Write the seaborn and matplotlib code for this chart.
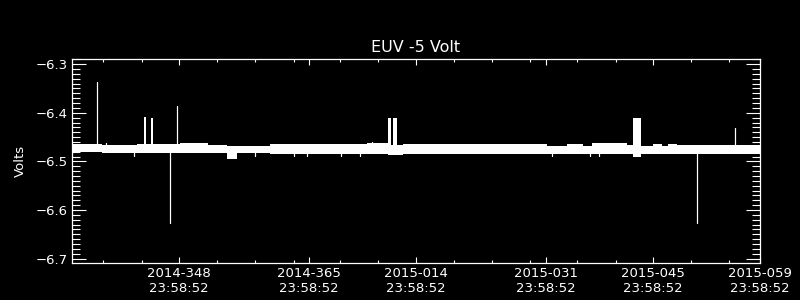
import matplotlib
matplotlib.use("Agg")
import matplotlib.pyplot as plt
from matplotlib.ticker import MultipleLocator
import seaborn as sns
import pandas as pd

# ---- data (x = days since 2014-334 23:58:52, y = Volts) ----
# noisy telemetry envelope
band_edges = [0.00, 3.92, 8.50, 9.38, 9.68, 10.33, 10.60, 14.13, 17.79, 20.28,
              21.58, 25.90, 38.59, 41.34, 41.69, 42.03, 42.48, 43.30, 62.14,
              64.75, 66.85, 68.02, 72.60, 73.39, 74.43, 76.00, 77.18, 77.97,
              79.15, 90.00]
band_top = [-6.4632, -6.4663, -6.4632, -6.4088, -6.4632, -6.4100, -6.4632,
            -6.4616, -6.4663, -6.4684, -6.4673, -6.4632, -6.4612, -6.4110,
            -6.4653, -6.4110, -6.4653, -6.4632, -6.4684, -6.4632, -6.4673,
            -6.4622, -6.4663, -6.4110, -6.4684, -6.4632, -6.4684, -6.4632,
            -6.4663]
band_bottom = [-6.4807, -6.4828, -6.4828, -6.4828, -6.4828, -6.4828, -6.4828,
               -6.4828, -6.4828, -6.4945, -6.4828, -6.4838, -6.4838, -6.4869,
               -6.4869, -6.4869, -6.4869, -6.4838, -6.4838, -6.4838, -6.4838,
               -6.4838, -6.4838, -6.4903, -6.4848, -6.4848, -6.4848, -6.4848,
               -6.4848]

# single-sample spikes
baseline = -6.475
spike_day = [3.31, 4.45, 8.11, 12.86, 13.78, 23.94, 29.04, 30.74, 35.19, 37.67,
             39.20, 62.75, 67.76, 68.94, 81.80, 86.77]
spike_val = [-6.337, -6.4622, -6.489, -6.626, -6.386, -6.489, -6.489, -6.489,
             -6.489, -6.489, -6.4602, -6.489, -6.489, -6.489, -6.626, -6.4314]

# axis ticks
xtick_days = [14, 31, 45, 62, 76, 90]
xtick_labels = ["2014-348\n23:58:52", "2014-365\n23:58:52", "2015-014\n23:58:52",
                "2015-031\n23:58:52", "2015-045\n23:58:52", "2015-059\n23:58:52"]
xminor_days = [4.1, 9.1, 19.0, 24.0, 29.1, 35.1, 40.0, 50.0, 54.9, 59.9,
               66.1, 71.1, 81.0, 85.9]
x_range = (0, 90)
y_range = (-6.709, -6.290)

title = "EUV -5 Volt"
ylabel = "Volts"

# ---- style ----
sns.set_theme(style="ticks", rc={
    "figure.facecolor": "black",
    "axes.facecolor": "black",
    "axes.edgecolor": "white",
    "axes.labelcolor": "white",
    "text.color": "white",
    "xtick.color": "white",
    "ytick.color": "white",
    "axes.grid": False,
})
plt.rcParams["font.family"] = ["DejaVu Sans"]

fig = plt.figure(figsize=(8, 3), dpi=100, facecolor="black")
ax = fig.add_axes([0.09, 0.1233, 0.86, 0.679])

# envelope of the dense telemetry
ax.fill_between(band_edges, band_top + [band_top[-1]],
                band_bottom + [band_bottom[-1]], step="post",
                color="white", linewidth=0)

# spikes as a trace through the baseline
tx, ty = [], []
for d, v in zip(spike_day, spike_val):
    tx += [d, d, d]
    ty += [baseline, v, baseline]
trace = pd.DataFrame({"day": [x_range[0]] + tx + [x_range[1]],
                      "volt": [baseline] + ty + [baseline]})
sns.lineplot(data=trace, x="day", y="volt", estimator=None, sort=False,
             color="white", linewidth=0.8, ax=ax)

ax.set_xlim(*x_range)
ax.set_ylim(*y_range)
ax.set_xticks(xtick_days)
ax.set_xticklabels(xtick_labels)
ax.set_xticks(xminor_days, minor=True)
ax.yaxis.set_major_locator(MultipleLocator(0.1))
ax.yaxis.set_minor_locator(MultipleLocator(0.01))

for s in ax.spines.values():
    s.set_color("white")
    s.set_linewidth(0.9)

ax.tick_params(which="both", direction="in", top=True, right=True,
               colors="white", width=0.8)
ax.tick_params(axis="x", which="major", length=4.5, pad=3, labelsize=9.5)
ax.tick_params(axis="x", which="minor", length=2.3)
ax.tick_params(axis="y", which="major", length=10, pad=3, labelsize=9.5)
ax.tick_params(axis="y", which="minor", length=5.8)

ax.set_xlabel("")
ax.set_ylabel(ylabel, fontsize=9.5, labelpad=6)
ax.set_title(title, fontsize=11.5, color="white", pad=5)

fig.savefig("out.png", dpi=100, facecolor="black")
